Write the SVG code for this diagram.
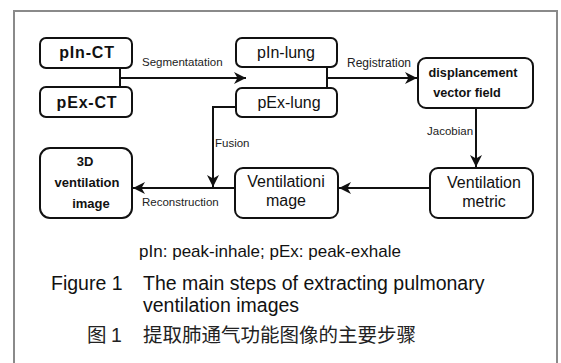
<svg xmlns="http://www.w3.org/2000/svg" width="561" height="363" viewBox="0 0 561 363">
  <style>
    .frame { fill: #ffffff; stroke: #8a8a8a; stroke-width: 2; }
    .box { fill: #ffffff; stroke: #111111; stroke-width: 2; }
    .wire { fill: none; stroke: #111111; stroke-width: 2; }
    .t { font-family: "Liberation Sans", Arial, sans-serif; fill: #111111; text-anchor: middle; }
    .b { font-weight: bold; }
    .lbl { font-family: "Liberation Sans", Arial, sans-serif; font-size: 11.5px; fill: #222222; }
    .cap { font-family: "Liberation Sans", Arial, sans-serif; fill: #111111; }
    .cjk { font-family: "Liberation Sans", "Noto Sans CJK SC", sans-serif; fill: #222222; }
  </style>
  <defs>
    <marker id="arrow" markerUnits="userSpaceOnUse" markerWidth="14" markerHeight="12" refX="12" refY="6" orient="auto" viewBox="0 0 14 12">
      <path d="M0,0 L12,6 L0,12 L3.5,6 Z" fill="#111111"/>
    </marker>
  </defs>

  <rect width="561" height="363" fill="#ffffff"/>
  <rect class="frame" x="14" y="11" width="543" height="360"/>

  <!-- connectors -->
  <g id="connectors">
    <path class="wire" d="M120,68 V87"/>
    <path class="wire" d="M120,78 H246" marker-end="url(#arrow)"/>
    <path class="wire" d="M327,67 V88"/>
    <path class="wire" d="M327,78 H417" marker-end="url(#arrow)"/>
    <path class="wire" d="M476,108 V167" marker-end="url(#arrow)"/>
    <path class="wire" d="M430,188 H339" marker-end="url(#arrow)"/>
    <path class="wire" d="M235,188 H133" marker-end="url(#arrow)"/>
    <path class="wire" d="M236,107 H213 V187" marker-end="url(#arrow)"/>
    <text class="lbl" x="142" y="66">Segmentatation</text>
    <text class="lbl" x="347" y="67" style="font-size:12px">Registration</text>
    <text class="lbl" x="427" y="135">Jacobian</text>
    <text class="lbl" x="215" y="147">Fusion</text>
    <text class="lbl" x="142" y="206">Reconstruction</text>
  </g>

  <!-- nodes -->
  <g id="pIn-CT">
    <rect class="box" x="40" y="38" width="92" height="30" rx="6"/>
    <text class="t b" x="87" y="58" style="font-size:16px;letter-spacing:0.8px">pIn-CT</text>
  </g>
  <g id="pEx-CT">
    <rect class="box" x="40" y="87" width="92" height="30" rx="6"/>
    <text class="t b" x="87" y="108" style="font-size:16px;letter-spacing:0.8px">pEx-CT</text>
  </g>
  <g id="pIn-lung">
    <rect class="box" x="236" y="38" width="101" height="29" rx="6"/>
    <text class="t" x="286" y="58" style="font-size:16px">pIn-lung</text>
  </g>
  <g id="pEx-lung">
    <rect class="box" x="236" y="88" width="101" height="29" rx="6"/>
    <text class="t" x="289" y="108" style="font-size:16px">pEx-lung</text>
  </g>
  <g id="dvf">
    <rect class="box" x="418" y="58" width="115" height="50" rx="8"/>
    <text class="t b" x="473" y="77" style="font-size:12.7px">displancement</text>
    <text class="t b" x="467" y="97" style="font-size:12.7px">vector field</text>
  </g>
  <g id="ventilation-metric">
    <rect class="box" x="430" y="168" width="103" height="50" rx="8"/>
    <text class="t" x="484" y="188" style="font-size:16px">Ventilation</text>
    <text class="t" x="484" y="207" style="font-size:16px">metric</text>
  </g>
  <g id="ventilation-image">
    <rect class="box" x="235" y="168" width="103" height="50" rx="8"/>
    <text class="t" x="286" y="187" style="font-size:16px">Ventilationi</text>
    <text class="t" x="286" y="206" style="font-size:16px">mage</text>
  </g>
  <g id="ventilation-3d">
    <rect class="box" x="40" y="148" width="92" height="70" rx="10"/>
    <text class="t b" x="85" y="166" style="font-size:13px">3D</text>
    <text class="t b" x="87" y="187" style="font-size:13px">ventilation</text>
    <text class="t b" x="91" y="208" style="font-size:13px">image</text>
  </g>

  <!-- caption -->
  <text class="cap" x="270" y="257" text-anchor="middle" style="font-size:17px">pIn: peak-inhale; pEx: peak-exhale</text>
  <text class="cap" y="290" style="font-size:19.5px"><tspan x="51">Figure 1</tspan><tspan x="143">The main steps of extracting pulmonary</tspan></text>
  <text class="cap" x="143" y="312" style="font-size:19.5px">ventilation images</text>
  <text class="cjk" y="342" style="font-size:19.5px"><tspan x="87">图</tspan><tspan x="111">1</tspan><tspan x="143">提取肺通气功能图像的主要步骤</tspan></text>
</svg>
